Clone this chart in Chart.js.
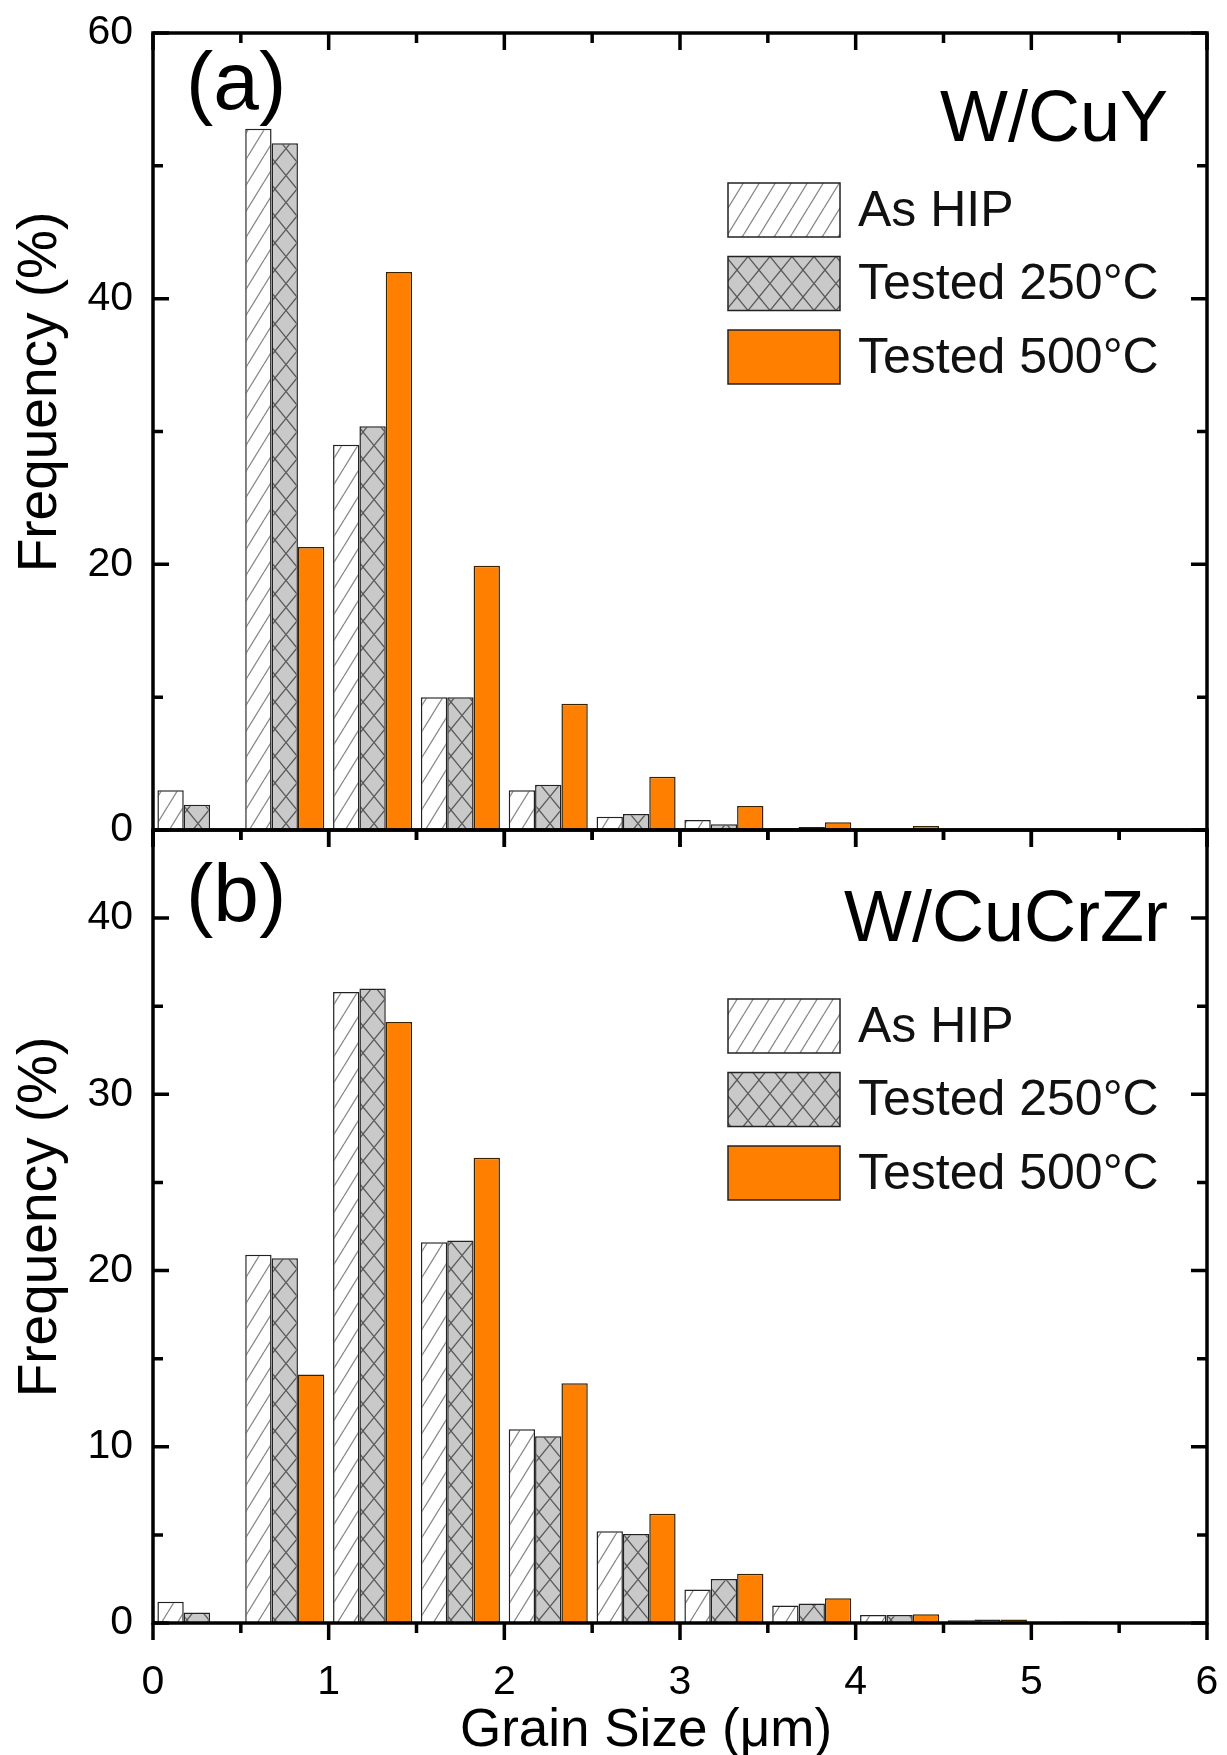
<!DOCTYPE html>
<html lang="en">
<head>
<meta charset="UTF-8" />
<title>Grain size distribution W/CuY and W/CuCrZr</title>
<script src="https://cdn.jsdelivr.net/npm/chart.js"></script>
<style>
  body { margin: 0; background: #fff; }
  #wrap { position: relative; width: 1227px; height: 1755px; }
  #wrap canvas { position: absolute; left: 0; top: 0; }
</style>
</head>
<body>
<div id="wrap">
  <canvas id="chartA" width="1227" height="1755"></canvas>
  <canvas id="chartB" width="1227" height="1755"></canvas>
</div>

<script>
// bin centres (um), 0.5 um wide bins
const binLabels = ["0.25", "0.75", "1.25", "1.75", "2.25", "2.75", "3.25", "3.75", "4.25", "4.75", "5.25", "5.75"];
const seriesNames = ["As HIP", "Tested 250°C", "Tested 500°C"];

// (a) W/CuY, frequency %
const cuyAsHip  = [3.0, 52.8, 29.0, 10.0, 3.0, 1.0, 0.75, 0.13, 0.05, 0, 0, 0];
const cuy250    = [1.9, 51.7, 30.4, 10.0, 3.4, 1.2, 0.43, 0.23, 0.05, 0, 0, 0];
const cuy500    = [0, 21.3, 42.0, 19.9, 9.5, 4.0, 1.8, 0.58, 0.3, 0, 0, 0];

// (b) W/CuCrZr, frequency %
const crzAsHip  = [1.2, 20.9, 35.8, 21.6, 11.0, 5.2, 1.9, 1.0, 0.45, 0.15, 0.05, 0];
const crz250    = [0.6, 20.7, 36.0, 21.7, 10.6, 5.05, 2.5, 1.1, 0.45, 0.2, 0.08, 0];
const crz500    = [0, 14.1, 34.1, 26.4, 13.6, 6.2, 2.8, 1.4, 0.5, 0.2, 0, 0];

const xTickValues = [0, 1, 2, 3, 4, 5, 6];

const FONT = "'Liberation Sans', Arial, sans-serif";

// hatch patterns like the Origin fills
function makePattern(bg, lineColor, w, h, cross) {
    const c = document.createElement("canvas");
    c.width = w; c.height = h;
    const g = c.getContext("2d");
    g.fillStyle = bg;
    g.fillRect(0, 0, w, h);
    g.strokeStyle = lineColor;
    g.lineWidth = 1.3;
    g.beginPath();
    g.moveTo(-w / 2, h); g.lineTo(w / 2, 0);
    g.moveTo(w / 2, h); g.lineTo(1.5 * w, 0);
    if (cross) {
        g.moveTo(-w / 2, 0); g.lineTo(w / 2, h);
        g.moveTo(w / 2, 0); g.lineTo(1.5 * w, h);
    }
    g.stroke();
    return g.createPattern(c, "repeat");
}

const fillAsHip = makePattern("#ffffff", "#8a8a8a", 16, 26, false);
const fill250 = makePattern("#c9c9c9", "#5a5a5a", 22, 27, true);
const fill500 = "#ff8000";

// frame, inward ticks, panel labels, legend and axis titles
const framePlugin = {
    id: "frame",
    afterDraw(chart, args, o) {
        const ctx = chart.ctx;
        const ca = chart.chartArea;
        const ys = chart.scales.y;
        const xs = chart.scales.xl;
        ctx.save();

        // bars legend
        chart.data.datasets.forEach((ds, i) => {
            const cy = ca.top + o.legendTop + i * o.legendGap;
            ctx.fillStyle = ds.backgroundColor;
            ctx.fillRect(o.legendX, cy - 27, 112, 54);
            ctx.strokeStyle = "#222";
            ctx.lineWidth = 1.5;
            ctx.strokeRect(o.legendX, cy - 27, 112, 54);
            ctx.fillStyle = "#111";
            ctx.font = "50px " + FONT;
            ctx.textAlign = "left";
            ctx.textBaseline = "middle";
            ctx.fillText(ds.label, o.legendX + 130, cy + 2);
        });

        // frame
        ctx.strokeStyle = "#000";
        ctx.lineWidth = 3.5;
        ctx.strokeRect(ca.left, ca.top, ca.right - ca.left, ca.bottom - ca.top);

        // y ticks, inward on both sides
        for (let v = 0; v <= ys.max + 1e-9; v += o.yStep / 2) {
            const y = ys.getPixelForValue(v);
            const len = (Math.abs(v % o.yStep) < 1e-9) ? 16 : 10;
            ctx.beginPath();
            ctx.moveTo(ca.left, y); ctx.lineTo(ca.left + len, y);
            ctx.moveTo(ca.right, y); ctx.lineTo(ca.right - len, y);
            ctx.stroke();
        }
        // x ticks, pointing down from both horizontal lines
        for (let v = 0; v <= 6; v += 0.5) {
            const x = xs.getPixelForValue(v);
            const len = (v % 1 === 0) ? 17 : 10;
            ctx.beginPath();
            ctx.moveTo(x, ca.top); ctx.lineTo(x, ca.top + len);
            ctx.moveTo(x, ca.bottom); ctx.lineTo(x, ca.bottom + len);
            ctx.stroke();
        }

        // panel letter and material name
        ctx.fillStyle = "#000";
        ctx.textBaseline = "alphabetic";
        ctx.font = "82px " + FONT;
        ctx.textAlign = "left";
        ctx.fillText(o.panel, 186, ca.top + o.panelBase);
        ctx.font = "72px " + FONT;
        ctx.textAlign = "right";
        ctx.fillText(o.material, 1168, ca.top + o.materialBase);

        // axis titles
        ctx.font = "55px " + FONT;
        ctx.textAlign = "center";
        ctx.textBaseline = "middle";
        ctx.save();
        ctx.translate(41, o.yTitleY);
        ctx.rotate(-Math.PI / 2);
        ctx.fillText("Frequency (%)", 0, 0);
        ctx.restore();
        if (o.xTitle) {
            ctx.font = "53px " + FONT;
            ctx.textBaseline = "alphabetic";
            ctx.fillText(o.xTitle, 646, 1746);
        }
        ctx.restore();
    }
};

function makeChart(id, values, cfg) {
    const fills = [fillAsHip, fill250, fill500];
    const datasets = values.map((vals, i) => ({
        label: seriesNames[i],
        data: vals,
        backgroundColor: fills[i],
        borderColor: i === 2 ? "#3a2200" : "#222",
        borderWidth: 1.5,
        categoryPercentage: 0.9,
        barPercentage: 1.0
    }));
    return new Chart(document.getElementById(id), {
        type: "bar",
        data: { labels: binLabels, datasets: datasets },
        plugins: [framePlugin],
        options: {
            responsive: false,
            animation: false,
            layout: { padding: cfg.padding },
            plugins: {
                legend: { display: false },
                tooltip: { enabled: false },
                frame: cfg.frame
            },
            scales: {
                x: { type: "category", display: false, offset: true },
                xl: {
                    type: "linear",
                    position: "bottom",
                    min: 0,
                    max: 6,
                    offset: false,
                    display: cfg.showX,
                    grid: { display: false, drawTicks: false, offset: false },
                    border: { display: false },
                    ticks: {
                        stepSize: 1,
                        padding: 35,
                        color: "#000",
                        font: { family: FONT, size: 41 }
                    },
                    afterBuildTicks(s) { s.ticks = xTickValues.map(v => ({ value: v })); },
                    afterFit(s) {
                        s.height = cfg.showX ? 132 : 0;
                        s.paddingLeft = 0;
                        s.paddingRight = 0;
                    }
                },
                y: {
                    min: 0,
                    max: cfg.yMax,
                    grid: { display: false, drawTicks: false },
                    border: { display: false },
                    ticks: {
                        stepSize: cfg.frame.yStep,
                        padding: 20,
                        color: "#000",
                        font: { family: FONT, size: 41 }
                    },
                    afterBuildTicks(s) { s.ticks = s.ticks.filter(t => t.value % cfg.frame.yStep === 0); },
                    afterFit(s) {
                        s.width = 153;
                        s.paddingTop = 0;
                        s.paddingBottom = 0;
                    }
                }
            }
        }
    });
}

makeChart("chartA", [cuyAsHip, cuy250, cuy500], {
    padding: { top: 33, left: 0, right: 20, bottom: 925 },
    yMax: 60,
    showX: false,
    frame: {
        yStep: 20, panel: "(a)", material: "W/CuY",
        panelBase: 76, materialBase: 108,
        legendX: 728, legendTop: 177, legendGap: 73.5,
        yTitleY: 392, xTitle: null
    }
});

makeChart("chartB", [crzAsHip, crz250, crz500], {
    padding: { top: 830, left: 0, right: 20, bottom: 0 },
    yMax: 45,
    showX: true,
    frame: {
        yStep: 10, panel: "(b)", material: "W/CuCrZr",
        panelBase: 91, materialBase: 111,
        legendX: 728, legendTop: 196, legendGap: 73.5,
        yTitleY: 1217, xTitle: "Grain Size (μm)"
    }
});
</script>
</body>
</html>
